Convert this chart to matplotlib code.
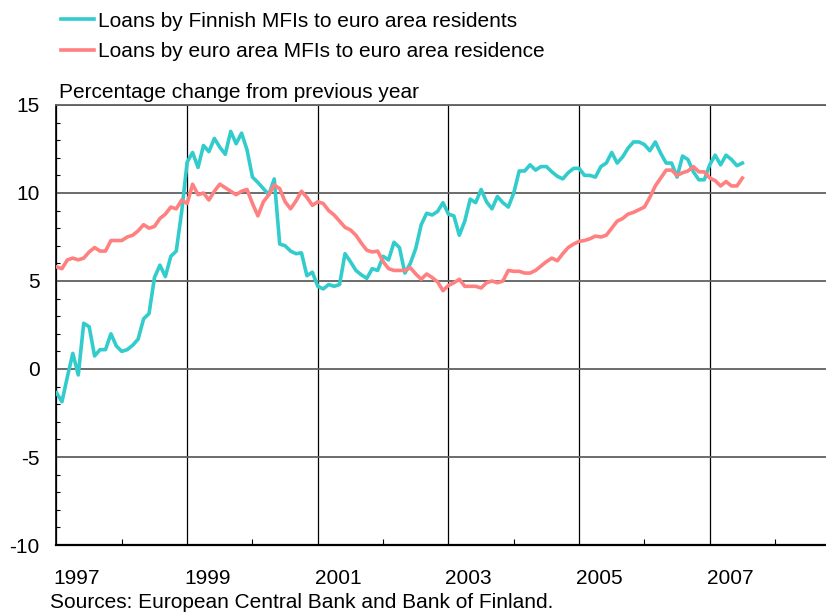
import matplotlib
matplotlib.use("Agg")
import matplotlib.pyplot as plt
import matplotlib.transforms as mtransforms
import numpy as np

plt.rcParams['font.family'] = ['Liberation Sans', 'DejaVu Sans']

# monthly data, Jan 1997 onwards
finnish = [-1.35, -1.86, -0.44, 0.89, -0.34, 2.6, 2.4, 0.74, 1.1, 1.1, 2.0, 1.3,
           1.0, 1.1, 1.35, 1.7, 2.85, 3.15, 5.2, 5.9, 5.25, 6.4, 6.7, 8.95,
           11.75, 12.3, 11.45, 12.7, 12.35, 13.1, 12.6, 12.2, 13.5, 12.8, 13.4, 12.45,
           10.9, 10.6, 10.25, 9.9, 10.8, 7.1, 7.0, 6.7, 6.55, 6.6, 5.3, 5.5,
           4.7, 4.55, 4.8, 4.7, 4.8, 6.55, 6.1, 5.6, 5.35, 5.15, 5.7, 5.6,
           6.4, 6.2, 7.2, 6.9, 5.45, 6.0, 6.85, 8.2, 8.85, 8.75, 8.95, 9.45,
           8.8, 8.7, 7.6, 8.4, 9.65, 9.45, 10.2, 9.5, 9.1, 9.8, 9.45, 9.2,
           10.0, 11.25, 11.25, 11.6, 11.3, 11.5, 11.5, 11.2, 10.95, 10.8, 11.15, 11.4,
           11.4, 11.0, 11.0, 10.9, 11.5, 11.7, 12.3, 11.7, 12.05, 12.55, 12.9, 12.9,
           12.75, 12.4, 12.9, 12.25, 11.7, 11.7, 10.9, 12.1, 11.9, 11.2, 10.75, 10.75,
           11.6, 12.15, 11.6, 12.15, 11.9, 11.55, 11.7]
euro_area = [5.8, 5.7, 6.2, 6.3, 6.2, 6.3, 6.65, 6.9, 6.7, 6.7, 7.3, 7.3,
             7.3, 7.5, 7.6, 7.85, 8.2, 8.0, 8.1, 8.55, 8.8, 9.2, 9.1, 9.6,
             9.4, 10.5, 9.9, 10.0, 9.6, 10.1, 10.5, 10.3, 10.1, 9.9, 10.1, 10.2,
             9.4, 8.7, 9.5, 9.9, 10.45, 10.25, 9.5, 9.1, 9.55, 10.1, 9.75, 9.3,
             9.5, 9.4, 9.0, 8.75, 8.4, 8.05, 7.9, 7.6, 7.15, 6.75, 6.65, 6.7,
             6.1, 5.7, 5.6, 5.6, 5.6, 5.75, 5.4, 5.1, 5.4, 5.2, 4.95, 4.45,
             4.75, 4.9, 5.1, 4.7, 4.7, 4.7, 4.6, 4.9, 5.0, 4.9, 5.0, 5.6,
             5.55, 5.55, 5.45, 5.45, 5.6, 5.85, 6.1, 6.3, 6.15, 6.55, 6.9, 7.1,
             7.25, 7.3, 7.4, 7.55, 7.5, 7.6, 8.0, 8.4, 8.55, 8.8, 8.9, 9.05,
             9.2, 9.75, 10.4, 10.85, 11.3, 11.3, 11.0, 11.15, 11.25, 11.5, 11.2, 11.2,
             10.85, 10.7, 10.4, 10.65, 10.4, 10.4, 10.85]
year_labels = ['1997', '1999', '2001', '2003', '2005', '2007']
label_years = [1997, 1999, 2001, 2003, 2005, 2007]

t = 1997 + np.arange(len(finnish)) / 12.0

fig = plt.figure(figsize=(8.26, 6.15), dpi=100)
ax = fig.add_axes([0.0684, 0.1138, 0.9316, 0.7155])

ax.plot(t, finnish, color='#33CCCC', lw=2.6, solid_joinstyle='round',
        label='Loans by Finnish MFIs to euro area residents', zorder=3)
ax.plot(t, euro_area, color='#FF8080', lw=2.6, solid_joinstyle='round',
        label='Loans by euro area MFIs to euro area residence', zorder=3)

ax.set_xlim(1997, 2008.78)
ax.set_ylim(-10, 15)

# x axis: grid at odd years, small ticks at even years
ax.set_xticks(label_years)
ax.set_xticklabels(year_labels, ha='left')
ax.set_xticks(np.arange(1998, 2009, 2), minor=True)
ax.tick_params(axis='x', which='major', length=0, pad=17, labelsize=15)
ax.tick_params(axis='x', which='minor', direction='in', length=4, width=0.8)
shift = mtransforms.ScaledTranslation(-3 / 100, 0, fig.dpi_scale_trans)
for lab in ax.get_xticklabels():
    lab.set_transform(lab.get_transform() + shift)

ax.set_yticks([-10, -5, 0, 5, 10, 15])
ax.set_yticklabels(['-10', '-5', '0', '5', '10', '15'])
ax.set_yticks(np.arange(-10, 16, 1), minor=True)
ax.tick_params(axis='y', which='major', length=0, pad=12, labelsize=15)
ax.tick_params(axis='y', which='minor', direction='in', length=3, width=0.8)

ax.xaxis.grid(True, which='major', color='black', lw=0.9)
ax.yaxis.grid(True, which='major', color='#606060', lw=1.3)

ax.spines['right'].set_visible(False)
ax.spines['top'].set_color('#606060')
ax.spines['top'].set_linewidth(1.3)
ax.spines['left'].set_linewidth(1.2)
ax.spines['bottom'].set_linewidth(1.6)

ax.text(0.003, 1.006, 'Percentage change from previous year', transform=ax.transAxes,
        ha='left', va='bottom', fontsize=15)

fig.legend(loc='upper left', bbox_to_anchor=(61 / 826, 0.981), frameon=False, fontsize=15,
           handlelength=1.6, handletextpad=0.2, labelspacing=0.55,
           borderaxespad=0, borderpad=0)

fig.text(50 / 826, 1 - 603 / 615, 'Sources: European Central Bank and Bank of Finland.',
         ha='left', va='center', fontsize=15)

fig.savefig('out.png', dpi=100)
